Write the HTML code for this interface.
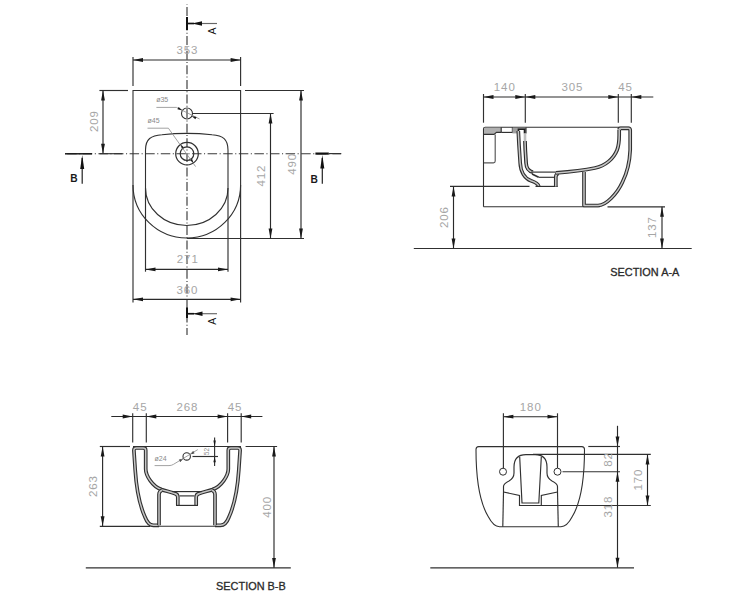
<!DOCTYPE html>
<html><head><meta charset="utf-8"><title>Bidet technical drawing</title><style>
html,body{margin:0;padding:0;background:#fff;}
body{width:750px;height:600px;overflow:hidden;}
svg{display:block;font-family:"Liberation Sans", sans-serif;}
</style></head><body>
<svg width="750" height="600" viewBox="0 0 750 600">
<rect width="750" height="600" fill="#fff"/>
<line x1="187" y1="4" x2="187" y2="335" stroke="#3a3a3a" stroke-width="1.15" stroke-dasharray="9 2.3 1 2.3" stroke-dashoffset="11.7"/>
<line x1="65" y1="153.7" x2="341" y2="153.7" stroke="#3a3a3a" stroke-width="1.15" stroke-dasharray="9.5 2.5 1.1 2.5" stroke-dashoffset="13.4"/>
<path d="M133,90.5 H240.6 V185 A53.8,53 0 0 1 133,185 Z" stroke="#303030" stroke-width="1.1" fill="none"/>
<line x1="133" y1="185" x2="133" y2="302.5" stroke="#303030" stroke-width="1.15"/>
<line x1="240.6" y1="185" x2="240.6" y2="302.5" stroke="#303030" stroke-width="1.15"/>
<path d="M145.5,188 V150 C145.5,139 151,135.5 162,134.8 Q187,132 212,134.8 C223,135.5 228,139 228,150 V188 A41.25,37.5 0 0 1 145.5,188 Z" stroke="#303030" stroke-width="1.1" fill="none"/>
<line x1="145.5" y1="188" x2="145.5" y2="271.7" stroke="#303030" stroke-width="1.15"/>
<line x1="228" y1="188" x2="228" y2="271.7" stroke="#303030" stroke-width="1.15"/>
<circle cx="187" cy="113.5" r="5.5" stroke="#303030" stroke-width="1.1" fill="none"/>
<circle cx="187" cy="153.7" r="11.3" stroke="#303030" stroke-width="1.2" fill="none"/>
<circle cx="187" cy="153.7" r="6.8" stroke="#303030" stroke-width="1.2" fill="none"/>
<path d="M156.4,107.4 H176.4 L199.6,119" stroke="#8a8a8a" stroke-width="0.8" fill="none"/>
<polygon points="182.5,110.4 177.45,109.33 178.61,107" fill="#1a1a1a"/>
<polygon points="191.5,115.9 196.55,116.97 195.39,119.3" fill="#1a1a1a"/>
<path d="M147.5,128.2 H168.4 L195.6,166.6" stroke="#8a8a8a" stroke-width="0.8" fill="none"/>
<polygon points="180.6,144.6 183.89,147.17 181.93,148.56" fill="#1a1a1a"/>
<polygon points="193.4,162.8 190.11,160.23 192.07,158.84" fill="#1a1a1a"/>
<text x="162.2" y="101.81" font-size="7" fill="#8a8a8a" text-anchor="middle">&#248;35</text>
<text x="153.5" y="123.11" font-size="7" fill="#8a8a8a" text-anchor="middle">&#248;45</text>
<line x1="99.4" y1="90.5" x2="128" y2="90.5" stroke="#303030" stroke-width="1.15"/>
<line x1="245" y1="90.5" x2="304" y2="90.5" stroke="#303030" stroke-width="1.15"/>
<line x1="192.5" y1="113.5" x2="273.6" y2="113.5" stroke="#303030" stroke-width="1.15"/>
<line x1="187" y1="238.5" x2="304" y2="238.5" stroke="#303030" stroke-width="1.15"/>
<line x1="133" y1="57" x2="133" y2="86" stroke="#303030" stroke-width="1.15"/>
<line x1="240.6" y1="57" x2="240.6" y2="86" stroke="#303030" stroke-width="1.15"/>
<line x1="133" y1="60" x2="240.6" y2="60" stroke="#2a2a2a" stroke-width="1.15"/>
<polygon points="133,60 143,58.1 143,61.9" fill="#1a1a1a"/>
<polygon points="240.6,60 230.6,61.9 230.6,58.1" fill="#1a1a1a"/>
<line x1="103" y1="90.5" x2="103" y2="153.7" stroke="#2a2a2a" stroke-width="1.15"/>
<polygon points="103,90.5 104.9,100.5 101.1,100.5" fill="#1a1a1a"/>
<polygon points="103,153.7 101.1,143.7 104.9,143.7" fill="#1a1a1a"/>
<line x1="270.5" y1="113.5" x2="270.5" y2="238.5" stroke="#2a2a2a" stroke-width="1.15"/>
<polygon points="270.5,113.5 272.4,123.5 268.6,123.5" fill="#1a1a1a"/>
<polygon points="270.5,238.5 268.6,228.5 272.4,228.5" fill="#1a1a1a"/>
<line x1="301" y1="90.5" x2="301" y2="238.5" stroke="#2a2a2a" stroke-width="1.15"/>
<polygon points="301,90.5 302.9,100.5 299.1,100.5" fill="#1a1a1a"/>
<polygon points="301,238.5 299.1,228.5 302.9,228.5" fill="#1a1a1a"/>
<line x1="145.5" y1="269.4" x2="228" y2="269.4" stroke="#2a2a2a" stroke-width="1.15"/>
<polygon points="145.5,269.4 155.5,267.5 155.5,271.3" fill="#1a1a1a"/>
<polygon points="228,269.4 218,271.3 218,267.5" fill="#1a1a1a"/>
<line x1="133" y1="299.3" x2="240.6" y2="299.3" stroke="#2a2a2a" stroke-width="1.15"/>
<polygon points="133,299.3 143,297.4 143,301.2" fill="#1a1a1a"/>
<polygon points="240.6,299.3 230.6,301.2 230.6,297.4" fill="#1a1a1a"/>
<text x="187.45" y="53.62" font-size="11.5" fill="#a6a6a6" text-anchor="middle" letter-spacing="0.9">353</text>
<text transform="translate(93.5 121.5) rotate(-90)" x="0.45" y="4.12" font-size="11.5" fill="#a6a6a6" text-anchor="middle" letter-spacing="0.9">209</text>
<text transform="translate(261 176) rotate(-90)" x="0.45" y="4.12" font-size="11.5" fill="#a6a6a6" text-anchor="middle" letter-spacing="0.9">412</text>
<text transform="translate(291.4 164.3) rotate(-90)" x="0.45" y="4.12" font-size="11.5" fill="#a6a6a6" text-anchor="middle" letter-spacing="0.9">490</text>
<text x="187.75" y="263.32" font-size="11.5" fill="#a6a6a6" text-anchor="middle" letter-spacing="0.9">271</text>
<text x="187.45" y="293.62" font-size="11.5" fill="#a6a6a6" text-anchor="middle" letter-spacing="0.9">360</text>
<line x1="187" y1="17" x2="187" y2="30" stroke="#111" stroke-width="2"/>
<line x1="187" y1="23.5" x2="217" y2="23.5" stroke="#666" stroke-width="1.15"/>
<line x1="187" y1="23.5" x2="194" y2="23.5" stroke="#111" stroke-width="1.6"/>
<polygon points="192,23.5 202,21.2 202,25.8" fill="#111"/>
<text transform="translate(212.5 31) rotate(-90)" x="0" y="3.76" font-size="10.5" fill="#111" text-anchor="middle">A</text>
<line x1="187" y1="307.5" x2="187" y2="318" stroke="#111" stroke-width="2"/>
<line x1="187" y1="313.7" x2="217" y2="313.7" stroke="#666" stroke-width="1.15"/>
<line x1="187" y1="313.7" x2="194" y2="313.7" stroke="#111" stroke-width="1.6"/>
<polygon points="193,313.7 202.5,311.4 202.5,316" fill="#111"/>
<text transform="translate(212 321.3) rotate(-90)" x="0" y="3.76" font-size="10.5" fill="#111" text-anchor="middle">A</text>
<line x1="65" y1="153.8" x2="92" y2="153.8" stroke="#1a1a1a" stroke-width="1.5"/>
<line x1="99.5" y1="153.7" x2="122.4" y2="153.7" stroke="#303030" stroke-width="1.15"/>
<line x1="82.2" y1="158" x2="82.2" y2="183.8" stroke="#222" stroke-width="1.2"/>
<polygon points="82.2,155 84.2,169 80.2,169" fill="#111"/>
<text x="74" y="182.25" font-size="10.2" fill="#1a1a1a" text-anchor="middle" font-weight="bold">B</text>
<line x1="315.4" y1="153.6" x2="328.8" y2="153.6" stroke="#111" stroke-width="2.2"/>
<line x1="328.8" y1="153.6" x2="341.3" y2="153.6" stroke="#333" stroke-width="1.15"/>
<line x1="322.3" y1="158" x2="322.3" y2="183.8" stroke="#222" stroke-width="1.2"/>
<polygon points="322.3,155 324.3,168.5 320.3,168.5" fill="#111"/>
<text x="314.2" y="182.75" font-size="10.2" fill="#1a1a1a" text-anchor="middle" font-weight="bold">B</text>
<line x1="483.5" y1="97" x2="653.3" y2="97" stroke="#2a2a2a" stroke-width="1.15"/>
<line x1="483.5" y1="94" x2="483.5" y2="122.7" stroke="#303030" stroke-width="1.15"/>
<line x1="525.3" y1="94" x2="525.3" y2="122.7" stroke="#303030" stroke-width="1.15"/>
<line x1="618.3" y1="94" x2="618.3" y2="122.7" stroke="#303030" stroke-width="1.15"/>
<line x1="631.3" y1="94" x2="631.3" y2="122.7" stroke="#303030" stroke-width="1.15"/>
<polygon points="483.5,97 493.5,95.1 493.5,98.9" fill="#1a1a1a"/>
<polygon points="525.3,97 515.3,98.9 515.3,95.1" fill="#1a1a1a"/>
<polygon points="525.3,97 535.3,95.1 535.3,98.9" fill="#1a1a1a"/>
<polygon points="618.3,97 608.3,98.9 608.3,95.1" fill="#1a1a1a"/>
<polygon points="631.3,97 641.3,95.1 641.3,98.9" fill="#1a1a1a"/>
<text x="504.75" y="91.42" font-size="11.5" fill="#a6a6a6" text-anchor="middle" letter-spacing="0.9">140</text>
<text x="572.45" y="91.42" font-size="11.5" fill="#a6a6a6" text-anchor="middle" letter-spacing="0.9">305</text>
<text x="625.45" y="91.42" font-size="11.5" fill="#a6a6a6" text-anchor="middle" letter-spacing="0.9">45</text>
<line x1="413.8" y1="248.5" x2="691.7" y2="248.5" stroke="#303030" stroke-width="1.15"/>
<path d="M483.5,206.8 V129 Q483.5,127.2 485.3,127.2 H629.5" stroke="#303030" stroke-width="1.1" fill="none"/>
<line x1="483.5" y1="206.8" x2="600" y2="206.8" stroke="#303030" stroke-width="1.1"/>
<path d="M484,127.8 H501.2 V132.4 H496.5 L494,134.4 H484 Z" fill="#b0b0b0"/>
<path d="M484,134.4 H494 L496.5,132.4 H501.2" stroke="#303030" stroke-width="1.1" fill="none"/>
<line x1="501.2" y1="127.2" x2="501.2" y2="132.4" stroke="#303030" stroke-width="1.15"/>
<line x1="501.2" y1="132.4" x2="518" y2="132.4" stroke="#303030" stroke-width="1.15"/>
<line x1="512.4" y1="127.2" x2="512.4" y2="132.9" stroke="#303030" stroke-width="1.15"/>
<path d="M495.2,134.4 V161 Q495.2,162.8 493.4,162.8 H484" stroke="#555" stroke-width="1.15" fill="none"/>
<path d="M512.4,127.8 H526 V133.4 H512.4 Z" fill="#a0a0a0"/>
<path d="M519.6,129.8 H523.4 V134 H519.6 Z" fill="#ffffff"/>
<path d="M518.4,133 V129.3 H524.7 V133.6" stroke="#1e1e1e" stroke-width="1.5" fill="none"/>
<line x1="526" y1="127.5" x2="526" y2="133.6" stroke="#303030" stroke-width="1.15"/>
<path d="M518.3,131 L519,145 L520.2,163 C520.6,172 525,178.5 531,180.8 C535.5,182.3 538,183.7 538.8,186.3" stroke="#303030" stroke-width="3.7" fill="none" stroke-linejoin="round"/>
<path d="M518.3,131 L519,145 L520.2,163 C520.6,172 525,178.5 531,180.8 C535.5,182.3 538,183.7 538.8,186.3" stroke="#c6c6c6" stroke-width="1.5" fill="none" stroke-linejoin="round"/>
<path d="M525,141 L525.3,150 L526.1,163 C526.3,168 528.5,171.2 533,172.2" stroke="#262626" stroke-width="3.7" fill="none" stroke-linejoin="round"/>
<path d="M525,141 L525.3,150 L526.1,163 C526.3,168 528.5,171.2 533,172.2" stroke="#c6c6c6" stroke-width="1.5" fill="none" stroke-linejoin="round"/>
<line x1="525" y1="133.4" x2="525" y2="141" stroke="#bdbdbd" stroke-width="2.6"/>
<line x1="531" y1="172.1" x2="556" y2="172.1" stroke="#303030" stroke-width="1.15"/>
<line x1="532" y1="174" x2="538.7" y2="177.3" stroke="#303030" stroke-width="1.6"/>
<line x1="538.7" y1="177.3" x2="554" y2="177.3" stroke="#303030" stroke-width="1.15"/>
<line x1="535.5" y1="186.4" x2="557.7" y2="186.4" stroke="#303030" stroke-width="1.15"/>
<path d="M555.8,186.4 V177 Q555.8,174 558.8,173.3" stroke="#303030" stroke-width="3.7" fill="none" stroke-linejoin="round"/>
<path d="M555.8,186.4 V177 Q555.8,174 558.8,173.3" stroke="#c6c6c6" stroke-width="1.5" fill="none" stroke-linejoin="round"/>
<path d="M556,172.9 C570,171.8 585,170 595,168 C605,166 613.5,159 617.1,150 C619,145 619.2,140 619.2,135 V130" stroke="#303030" stroke-width="3.7" fill="none" stroke-linejoin="round"/>
<path d="M556,172.9 C570,171.8 585,170 595,168 C605,166 613.5,159 617.1,150 C619,145 619.2,140 619.2,135 V130" stroke="#c6c6c6" stroke-width="1.5" fill="none" stroke-linejoin="round"/>
<path d="M584,172 V205.5 H598 C606,205.5 617,194 622.5,182 C627,173 629.7,162 630.2,150 V130.3 Q630.2,128.3 628.5,128.3 H620.5 Q619.2,128.3 619.2,129.6" stroke="#303030" stroke-width="3.7" fill="none" stroke-linejoin="round"/>
<path d="M584,172 V205.5 H598 C606,205.5 617,194 622.5,182 C627,173 629.7,162 630.2,150 V130.3 Q630.2,128.3 628.5,128.3 H620.5 Q619.2,128.3 619.2,129.6" stroke="#c6c6c6" stroke-width="1.5" fill="none" stroke-linejoin="round"/>
<line x1="450" y1="186.4" x2="529.5" y2="186.4" stroke="#303030" stroke-width="1.15"/>
<line x1="607.5" y1="206.8" x2="665" y2="206.8" stroke="#303030" stroke-width="1.15"/>
<line x1="453.5" y1="186.4" x2="453.5" y2="248.5" stroke="#2a2a2a" stroke-width="1.15"/>
<polygon points="453.5,186.4 455.4,196.4 451.6,196.4" fill="#1a1a1a"/>
<polygon points="453.5,248.5 451.6,238.5 455.4,238.5" fill="#1a1a1a"/>
<line x1="662" y1="206.8" x2="662" y2="248.5" stroke="#2a2a2a" stroke-width="1.15"/>
<polygon points="662,206.8 663.9,216.8 660.1,216.8" fill="#1a1a1a"/>
<polygon points="662,248.5 660.1,238.5 663.9,238.5" fill="#1a1a1a"/>
<text transform="translate(443.5 217.6) rotate(-90)" x="0.45" y="4.12" font-size="11.5" fill="#a6a6a6" text-anchor="middle" letter-spacing="0.9">206</text>
<text transform="translate(652 227.5) rotate(-90)" x="0.45" y="4.12" font-size="11.5" fill="#a6a6a6" text-anchor="middle" letter-spacing="0.9">137</text>
<text x="644.8" y="275.6" font-size="10.9" fill="#2a2a2a" text-anchor="middle" stroke="#2a2a2a" stroke-width="0.3">SECTION A-A</text>
<line x1="111.3" y1="416.5" x2="262.4" y2="416.5" stroke="#2a2a2a" stroke-width="1.15"/>
<line x1="132.7" y1="413.3" x2="132.7" y2="442.5" stroke="#303030" stroke-width="1.15"/>
<line x1="146.3" y1="413.3" x2="146.3" y2="442.5" stroke="#303030" stroke-width="1.15"/>
<line x1="227.6" y1="413.3" x2="227.6" y2="442.5" stroke="#303030" stroke-width="1.15"/>
<line x1="241.2" y1="413.3" x2="241.2" y2="442.5" stroke="#303030" stroke-width="1.15"/>
<polygon points="132.7,416.5 122.7,418.4 122.7,414.6" fill="#1a1a1a"/>
<polygon points="146.3,416.5 156.3,414.6 156.3,418.4" fill="#1a1a1a"/>
<polygon points="227.6,416.5 217.6,418.4 217.6,414.6" fill="#1a1a1a"/>
<polygon points="241.2,416.5 251.2,414.6 251.2,418.4" fill="#1a1a1a"/>
<text x="140.15" y="411.12" font-size="11.5" fill="#a6a6a6" text-anchor="middle" letter-spacing="0.9">45</text>
<text x="187.45" y="411.12" font-size="11.5" fill="#a6a6a6" text-anchor="middle" letter-spacing="0.9">268</text>
<text x="235.05" y="411.12" font-size="11.5" fill="#a6a6a6" text-anchor="middle" letter-spacing="0.9">45</text>
<line x1="99.8" y1="446.5" x2="130" y2="446.5" stroke="#303030" stroke-width="1.15"/>
<line x1="245.6" y1="446.5" x2="277.1" y2="446.5" stroke="#303030" stroke-width="1.15"/>
<line x1="99.8" y1="526.3" x2="150" y2="526.3" stroke="#303030" stroke-width="1.15"/>
<line x1="102.6" y1="446.5" x2="102.6" y2="526.3" stroke="#2a2a2a" stroke-width="1.15"/>
<polygon points="102.6,446.5 104.5,456.5 100.7,456.5" fill="#1a1a1a"/>
<polygon points="102.6,526.3 100.7,516.3 104.5,516.3" fill="#1a1a1a"/>
<line x1="274" y1="446.5" x2="274" y2="567.9" stroke="#2a2a2a" stroke-width="1.15"/>
<polygon points="274,446.5 275.9,456.5 272.1,456.5" fill="#1a1a1a"/>
<polygon points="274,567.9 272.1,557.9 275.9,557.9" fill="#1a1a1a"/>
<line x1="85.8" y1="567.9" x2="290.8" y2="567.9" stroke="#303030" stroke-width="1.15"/>
<text transform="translate(93.2 486.5) rotate(-90)" x="0.45" y="4.12" font-size="11.5" fill="#a6a6a6" text-anchor="middle" letter-spacing="0.9">263</text>
<text transform="translate(266.4 507.3) rotate(-90)" x="0.45" y="4.12" font-size="11.5" fill="#a6a6a6" text-anchor="middle" letter-spacing="0.9">400</text>
<text x="250.9" y="590.4" font-size="10.9" fill="#2a2a2a" text-anchor="middle" stroke="#2a2a2a" stroke-width="0.3">SECTION B-B</text>
<line x1="133" y1="446.5" x2="241" y2="446.5" stroke="#303030" stroke-width="1.1"/>
<path d="M159,525.3 H153.5 C149,525.3 146.5,521 145,517 C140,506 136.5,490 135.2,470 L133.9,450.3 Q133.9,447.9 136.3,447.9 H143.3 Q145.7,447.9 145.7,450.3 V469 C145.7,475 152,486.5 161.7,489.6 C166,490.8 171,492.6 174.5,493.4 Q177.8,494.1 177.8,497 V505.3" stroke="#303030" stroke-width="3.7" fill="none" stroke-linejoin="round"/>
<path d="M159,525.3 H153.5 C149,525.3 146.5,521 145,517 C140,506 136.5,490 135.2,470 L133.9,450.3 Q133.9,447.9 136.3,447.9 H143.3 Q145.7,447.9 145.7,450.3 V469 C145.7,475 152,486.5 161.7,489.6 C166,490.8 171,492.6 174.5,493.4 Q177.8,494.1 177.8,497 V505.3" stroke="#c6c6c6" stroke-width="1.5" fill="none" stroke-linejoin="round"/>
<path d="M 215 525.3 H 220.5 C 225 525.3 227.5 521 229 517 C 234 506 237.5 490 238.8 470 L 240.1 450.3 Q 240.1 447.9 237.7 447.9 H 230.7 Q 228.3 447.9 228.3 450.3 V 469 C 228.3 475 222 486.5 212.3 489.6 C 208 490.8 203 492.6 199.5 493.4 Q 196.2 494.1 196.2 497 V 505.3" stroke="#303030" stroke-width="3.7" fill="none" stroke-linejoin="round"/>
<path d="M 215 525.3 H 220.5 C 225 525.3 227.5 521 229 517 C 234 506 237.5 490 238.8 470 L 240.1 450.3 Q 240.1 447.9 237.7 447.9 H 230.7 Q 228.3 447.9 228.3 450.3 V 469 C 228.3 475 222 486.5 212.3 489.6 C 208 490.8 203 492.6 199.5 493.4 Q 196.2 494.1 196.2 497 V 505.3" stroke="#c6c6c6" stroke-width="1.5" fill="none" stroke-linejoin="round"/>
<path d="M159,525.3 V494.5 Q159,491.3 162,490.3" stroke="#303030" stroke-width="3.7" fill="none" stroke-linejoin="round"/>
<path d="M159,525.3 V494.5 Q159,491.3 162,490.3" stroke="#c6c6c6" stroke-width="1.5" fill="none" stroke-linejoin="round"/>
<path d="M 215 525.3 V 494.5 Q 215 491.3 212 490.3" stroke="#303030" stroke-width="3.7" fill="none" stroke-linejoin="round"/>
<path d="M 215 525.3 V 494.5 Q 215 491.3 212 490.3" stroke="#c6c6c6" stroke-width="1.5" fill="none" stroke-linejoin="round"/>
<line x1="176" y1="505.4" x2="198" y2="505.4" stroke="#303030" stroke-width="1.15"/>
<line x1="179.5" y1="495.9" x2="194.5" y2="495.9" stroke="#303030" stroke-width="1.15"/>
<line x1="172" y1="491.6" x2="202" y2="491.6" stroke="#303030" stroke-width="1.15"/>
<line x1="158" y1="526.3" x2="216" y2="526.3" stroke="#303030" stroke-width="1.1"/>
<circle cx="186.7" cy="456.4" r="3.7" stroke="#303030" stroke-width="1.1" fill="none"/>
<polygon points="183.4,458.5 180.22,461.94 178.88,459.72" fill="#1a1a1a"/>
<polygon points="190,454.4 193.18,450.96 194.52,453.18" fill="#1a1a1a"/>
<line x1="192.5" y1="456.5" x2="218" y2="456.5" stroke="#303030" stroke-width="1.15"/>
<line x1="214.6" y1="437.5" x2="214.6" y2="466" stroke="#333" stroke-width="1.15"/>
<polygon points="214.6,446.6 213.4,440.6 215.8,440.6" fill="#1a1a1a"/>
<polygon points="214.6,456.3 215.8,462.3 213.4,462.3" fill="#1a1a1a"/>
<path d="M154.6,465.6 H169 Q171.4,465.6 173.4,464.4 L197.8,449.6" stroke="#8a8a8a" stroke-width="0.8" fill="none"/>
<text x="160.5" y="460.51" font-size="7" fill="#8a8a8a" text-anchor="middle">&#248;24</text>
<text transform="translate(206.6 451.6) rotate(-90)" x="0" y="2.33" font-size="6.5" fill="#8a8a8a" text-anchor="middle">52</text>
<line x1="503.4" y1="416.7" x2="557.5" y2="416.7" stroke="#2a2a2a" stroke-width="1.15"/>
<polygon points="503.4,416.7 513.4,414.8 513.4,418.6" fill="#1a1a1a"/>
<polygon points="557.5,416.7 547.5,418.6 547.5,414.8" fill="#1a1a1a"/>
<line x1="503.4" y1="413.3" x2="503.4" y2="468" stroke="#303030" stroke-width="1.15"/>
<line x1="557.5" y1="413.3" x2="557.5" y2="468" stroke="#303030" stroke-width="1.15"/>
<text x="530.75" y="411.12" font-size="11.5" fill="#a6a6a6" text-anchor="middle" letter-spacing="0.9">180</text>
<path d="M478.7,446.6 H581.8 Q584.5,446.6 584.5,449.6 C584.5,478 580.5,503 572.3,516.5 Q567,526.7 561,526.7 H499.5 Q493.5,526.7 488.2,516.5 C480,503 476,478 476,449.6 Q476,446.6 478.7,446.6 Z" stroke="#303030" stroke-width="1.1" fill="none"/>
<circle cx="503" cy="471.7" r="3.5" stroke="#303030" stroke-width="1" fill="none"/>
<circle cx="557.5" cy="471.7" r="3.5" stroke="#303030" stroke-width="1" fill="none"/>
<line x1="562.5" y1="471.7" x2="620" y2="471.7" stroke="#303030" stroke-width="1.15"/>
<path d="M503.5,492 V486.5 C503.5,484 506,482.5 509,481 C512.5,479 514,477 514,473 V467 C514,459 518.5,454.6 526,454.6 H535 C542.5,454.6 547,459 547,467 V473 C547,477 548.5,479 552,481 C555,482.5 557.5,484 557.5,486.5 V492" stroke="#303030" stroke-width="1.15" fill="none"/>
<path d="M503.5,492 L519.5,495.5 V505.5 H541.3 V495.5 L557.5,492" stroke="#303030" stroke-width="1.15" fill="none"/>
<path d="M519.7,457 L522,503 H538.8 L541.3,457" stroke="#303030" stroke-width="1.15" fill="none"/>
<line x1="503.5" y1="492" x2="502.8" y2="526.7" stroke="#303030" stroke-width="1.15"/>
<line x1="557.5" y1="492" x2="558.3" y2="526.7" stroke="#303030" stroke-width="1.15"/>
<line x1="533" y1="454.4" x2="650.8" y2="454.4" stroke="#303030" stroke-width="1.15"/>
<line x1="541" y1="505.5" x2="650.8" y2="505.5" stroke="#303030" stroke-width="1.15"/>
<line x1="588.3" y1="446.5" x2="620" y2="446.5" stroke="#303030" stroke-width="1.15"/>
<line x1="617.5" y1="425.8" x2="617.5" y2="567.8" stroke="#2a2a2a" stroke-width="1.15"/>
<polygon points="617.5,446.5 615.6,436.5 619.4,436.5" fill="#1a1a1a"/>
<polygon points="617.5,471.7 619.4,481.7 615.6,481.7" fill="#1a1a1a"/>
<polygon points="617.5,567.8 615.6,557.8 619.4,557.8" fill="#1a1a1a"/>
<line x1="647.5" y1="454.4" x2="647.5" y2="505.5" stroke="#2a2a2a" stroke-width="1.15"/>
<polygon points="647.5,454.4 649.4,464.4 645.6,464.4" fill="#1a1a1a"/>
<polygon points="647.5,505.5 645.6,495.5 649.4,495.5" fill="#1a1a1a"/>
<line x1="430.3" y1="567.8" x2="634" y2="567.8" stroke="#303030" stroke-width="1.15"/>
<text transform="translate(607.5 460) rotate(-90)" x="0.45" y="4.12" font-size="11.5" fill="#a6a6a6" text-anchor="middle" letter-spacing="0.9">82</text>
<text transform="translate(637.8 480) rotate(-90)" x="0.45" y="4.12" font-size="11.5" fill="#a6a6a6" text-anchor="middle" letter-spacing="0.9">170</text>
<text transform="translate(607.5 507) rotate(-90)" x="0.45" y="4.12" font-size="11.5" fill="#a6a6a6" text-anchor="middle" letter-spacing="0.9">318</text>
</svg>
</body></html>
